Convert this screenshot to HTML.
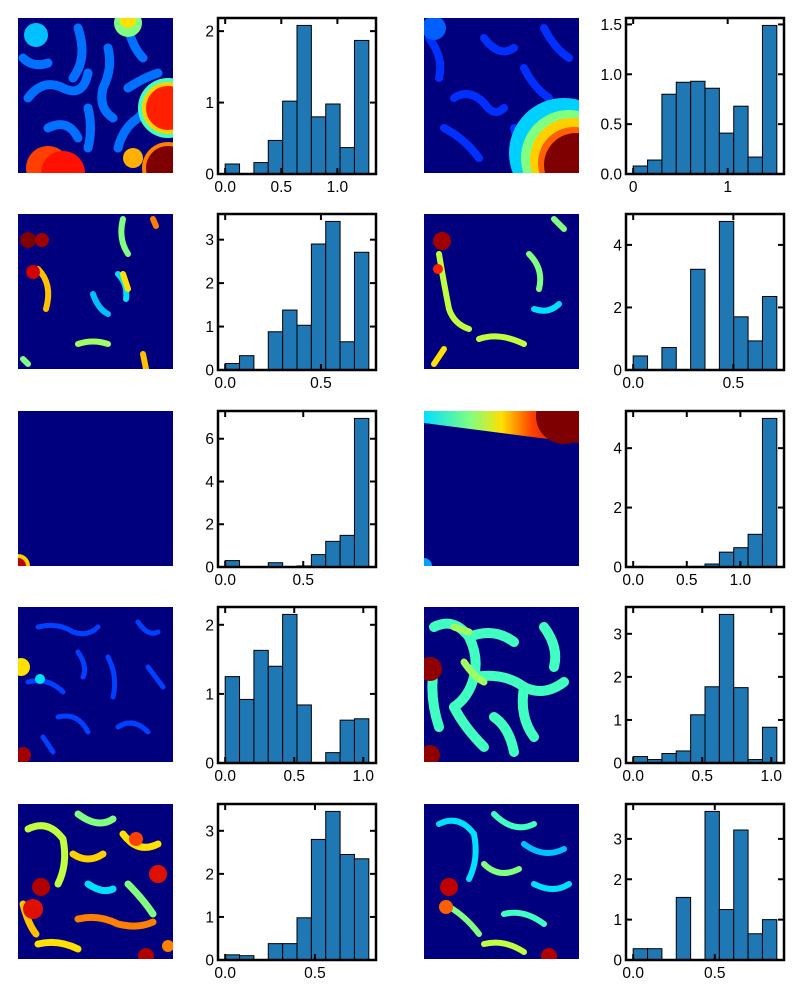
<!DOCTYPE html>
<html><head><meta charset="utf-8"><style>
body{margin:0;background:#fff;}
svg{display:block;font-family:"Liberation Sans","DejaVu Sans",sans-serif;}
</style></head><body>
<svg id="fig" width="800" height="1000" viewBox="0 0 800 1000">
<rect width="800" height="1000" fill="#fff"/>
<!-- Image 1 -->
<svg x="18" y="18" width="155" height="155" viewBox="0 0 155 155">
<rect width="155" height="155" fill="#00007f"/>
<g fill="none" stroke="#0070ff" stroke-width="9" stroke-linecap="round">
<path d="M10 80 Q25 60 45 70 T70 55"/><path d="M60 10 Q70 40 55 60"/><path d="M90 30 Q95 50 85 70 Q80 90 95 100"/>
<path d="M30 110 Q50 100 60 120"/><path d="M100 130 Q105 110 120 100 Q130 90 135 80"/><path d="M5 40 Q15 50 30 45"/>
<path d="M70 90 Q75 110 70 130"/><path d="M110 70 Q125 60 140 55"/><path d="M110 10 Q115 30 125 40"/></g>
<circle cx="18" cy="17" r="12" fill="#00c0ff"/>
<circle cx="110" cy="5" r="14" fill="#80ff80"/><circle cx="110" cy="2" r="8" fill="#ffe000"/>
<circle cx="150" cy="90" r="30" fill="#40ffc0"/><circle cx="150" cy="90" r="26" fill="#ffd000"/><circle cx="150" cy="90" r="22" fill="#ff2000"/>
<circle cx="30" cy="150" r="22" fill="#ff4000"/><circle cx="45" cy="155" r="22" fill="#ff1000"/>
<circle cx="150" cy="150" r="26" fill="#ff8000"/><circle cx="150" cy="150" r="22" fill="#7f0000"/>
<circle cx="115" cy="140" r="10" fill="#ffb000"/>
</svg>
<!-- Image 2 -->
<svg x="424" y="18" width="155" height="155" viewBox="0 0 155 155">
<rect width="155" height="155" fill="#00007f"/>
<g fill="none" stroke="#0030ff" stroke-width="8" stroke-linecap="round">
<path d="M5 20 Q20 40 15 60"/><path d="M30 80 Q45 70 60 85 Q70 100 80 90"/><path d="M60 20 Q75 40 90 30"/>
<path d="M100 50 Q110 70 125 80"/><path d="M20 110 Q40 120 55 140"/><path d="M90 110 Q95 130 110 140"/><path d="M120 10 Q130 30 145 40"/></g>
<circle cx="10" cy="10" r="12" fill="#0060ff"/>
<circle cx="140" cy="135" r="55" fill="#00d0ff"/><circle cx="145" cy="140" r="48" fill="#80ff80"/>
<circle cx="148" cy="142" r="42" fill="#ffd000"/><circle cx="150" cy="145" r="36" fill="#ff6000"/><circle cx="152" cy="147" r="32" fill="#7f0000"/>
</svg>
<!-- Image 3 -->
<svg x="18" y="214" width="155" height="155" viewBox="0 0 155 155">
<rect width="155" height="155" fill="#00007f"/>
<g fill="none" stroke-width="6" stroke-linecap="round">
<path d="M20 55 Q35 70 28 95" stroke="#ffc000"/><path d="M105 5 Q100 25 110 40" stroke="#80ff80"/><path d="M60 130 Q75 125 90 130" stroke="#a0ff60"/>
<path d="M100 60 Q110 70 108 85" stroke="#00e0ff"/><path d="M75 80 Q80 95 90 100" stroke="#00c0ff"/><path d="M125 140 L128 155" stroke="#ffc000"/>
<path d="M5 145 L10 150" stroke="#80ff80"/><path d="M135 5 L138 12" stroke="#ff8000"/><path d="M105 60 L110 75" stroke="#ffe000"/></g>
<circle cx="10" cy="26" r="8" fill="#7f0000"/><circle cx="24" cy="26" r="7" fill="#a00000"/><circle cx="15" cy="58" r="7" fill="#d00000"/>
</svg>
<!-- Image 4 -->
<svg x="424" y="214" width="155" height="155" viewBox="0 0 155 155">
<rect width="155" height="155" fill="#00007f"/>
<g fill="none" stroke-width="6" stroke-linecap="round">
<path d="M15 40 Q20 70 25 95 Q30 110 45 115" stroke="#c0ff40"/><path d="M105 40 Q120 55 115 75" stroke="#80ff80"/>
<path d="M55 125 Q75 118 100 130" stroke="#c0ff40"/><path d="M110 95 Q125 100 135 90" stroke="#00e0ff"/><path d="M20 135 L10 150" stroke="#ffe000"/>
<path d="M130 5 L140 15" stroke="#80ff80"/></g>
<circle cx="18" cy="27" r="9" fill="#a00000"/><circle cx="14" cy="55" r="5" fill="#ff2000"/>
</svg>
<!-- Image 5 -->
<svg x="18" y="411" width="155" height="155" viewBox="0 0 155 155">
<rect width="155" height="155" fill="#00007f"/>
<circle cx="0" cy="155" r="12" fill="#ffd000"/><circle cx="0" cy="155" r="8" fill="#c00000"/>
</svg>
<!-- Image 6 -->
<svg x="424" y="411" width="155" height="155" viewBox="0 0 155 155">
<defs><linearGradient id="g6" x1="0" x2="1" y1="0" y2="0">
<stop offset="0" stop-color="#00e0ff"/><stop offset="0.3" stop-color="#80ff80"/><stop offset="0.5" stop-color="#ffe000"/><stop offset="0.7" stop-color="#ff4000"/><stop offset="1" stop-color="#7f0000"/></linearGradient></defs>
<rect width="155" height="155" fill="#00007f"/>
<polygon points="0,0 155,0 155,32 0,12" fill="url(#g6)"/>
<circle cx="140" cy="5" r="28" fill="#7f0000"/>
<circle cx="0" cy="155" r="8" fill="#00a0ff"/>
</svg>
<!-- Image 7 -->
<svg x="18" y="607" width="155" height="155" viewBox="0 0 155 155">
<rect width="155" height="155" fill="#00007f"/>
<g fill="none" stroke="#0040ff" stroke-width="5" stroke-linecap="round">
<path d="M20 20 Q40 15 55 25 Q70 30 80 20"/><path d="M10 75 Q30 70 45 85"/><path d="M90 50 Q100 70 95 90"/><path d="M120 15 Q130 30 140 25"/>
<path d="M40 110 Q60 105 70 125"/><path d="M100 120 Q115 110 130 125"/><path d="M60 45 Q70 60 65 70"/><path d="M25 130 L35 145"/>
<path d="M130 60 L145 80"/></g>
<circle cx="3" cy="60" r="9" fill="#ffe000"/><circle cx="5" cy="148" r="8" fill="#a00000"/><circle cx="22" cy="72" r="5" fill="#00e0ff"/>
</svg>
<!-- Image 8 -->
<svg x="424" y="607" width="155" height="155" viewBox="0 0 155 155">
<rect width="155" height="155" fill="#00007f"/>
<g fill="none" stroke="#40ffc0" stroke-width="10" stroke-linecap="round">
<path d="M10 20 Q30 10 45 30 Q55 50 50 70 Q45 90 30 100"/><path d="M45 30 Q70 20 90 35"/><path d="M50 70 Q80 65 100 80 Q120 90 140 75"/>
<path d="M30 100 Q40 120 60 140"/><path d="M100 80 Q95 110 110 130"/><path d="M120 20 Q135 40 130 60"/><path d="M10 60 Q5 90 15 120"/>
<path d="M70 110 Q85 120 90 145"/></g>
<g fill="none" stroke="#a0ff60" stroke-width="7" stroke-linecap="round"><path d="M40 55 Q50 70 60 75"/><path d="M30 20 L45 25"/></g>
<circle cx="6" cy="62" r="12" fill="#900000"/><circle cx="6" cy="148" r="10" fill="#900000"/>
</svg>
<!-- Image 9 -->
<svg x="18" y="804" width="155" height="155" viewBox="0 0 155 155">
<rect width="155" height="155" fill="#00007f"/>
<g fill="none" stroke-width="7" stroke-linecap="round">
<path d="M10 25 Q30 15 45 35 Q50 60 40 80" stroke="#c0ff40"/><path d="M60 10 Q80 25 95 15" stroke="#80ff80"/><path d="M105 30 Q120 50 140 40" stroke="#ffe000"/>
<path d="M55 50 Q70 60 85 50" stroke="#ffd000"/><path d="M60 115 Q80 110 100 120 Q120 125 135 118" stroke="#ff8000"/><path d="M20 140 Q40 135 60 145" stroke="#ffe000"/>
<path d="M110 80 Q125 95 135 110" stroke="#80ff80"/><path d="M70 80 Q85 90 95 85" stroke="#00e0ff"/><path d="M5 100 Q10 120 18 130" stroke="#ffc000"/></g>
<circle cx="23" cy="83" r="9" fill="#b00000"/><circle cx="15" cy="105" r="10" fill="#e01000"/><circle cx="140" cy="70" r="9" fill="#e01000"/>
<circle cx="118" cy="35" r="7" fill="#ff4000"/><circle cx="128" cy="152" r="8" fill="#b00000"/><circle cx="150" cy="142" r="6" fill="#ff8000"/>
</svg>
<!-- Image 10 -->
<svg x="424" y="804" width="155" height="155" viewBox="0 0 155 155">
<rect width="155" height="155" fill="#00007f"/>
<g fill="none" stroke-width="6" stroke-linecap="round">
<path d="M15 20 Q35 10 50 30 Q55 55 45 75" stroke="#00e0ff"/><path d="M70 10 Q90 30 110 20" stroke="#40ffc0"/><path d="M100 40 Q120 55 140 45" stroke="#00c0ff"/>
<path d="M60 60 Q75 75 95 65" stroke="#80ff80"/><path d="M20 100 Q40 110 55 130" stroke="#80ff80"/><path d="M80 110 Q100 105 120 120" stroke="#40ffc0"/>
<path d="M110 80 Q130 90 145 80" stroke="#00e0ff"/><path d="M60 140 Q80 135 100 148" stroke="#c0ff40"/></g>
<circle cx="25" cy="83" r="9" fill="#c00000"/><circle cx="22" cy="103" r="7" fill="#ff6000"/><circle cx="125" cy="152" r="8" fill="#b00000"/>
</svg>
<g id="hists"></g>
</svg>
<script>
// Histogram data: bin ranges (lo, hi), bar heights, tick labels
const h1Range=[0,1.28];  const h1Vals=[0.14,0,0.16,0.47,1.02,2.08,0.80,0.98,0.37,1.87]; const h1X=[0,0.5,1.0]; const h1XL=["0.0","0.5","1.0"]; const h1Y=[0,1,2]; const h1YL=["0","1","2"];
const h2Range=[0,1.52];  const h2Vals=[0.08,0.14,0.80,0.92,0.93,0.86,0.41,0.68,0.17,1.49]; const h2X=[0,1]; const h2XL=["0","1"]; const h2Y=[0,0.5,1,1.5]; const h2YL=["0.0","0.5","1.0","1.5"];
const h3Range=[0,0.75];  const h3Vals=[0.15,0.33,0,0.88,1.38,1.03,2.9,3.42,0.65,2.71]; const h3X=[0,0.5]; const h3XL=["0.0","0.5"]; const h3Y=[0,1,2,3]; const h3YL=["0","1","2","3"];
const h4Range=[0,0.717]; const h4Vals=[0.45,0,0.72,0,3.22,0,4.75,1.7,0.93,2.35]; const h4X=[0,0.5]; const h4XL=["0.0","0.5"]; const h4Y=[0,2,4]; const h4YL=["0","2","4"];
const h5Range=[0,0.92];  const h5Vals=[0.3,0,0,0.2,0,0.05,0.58,1.2,1.48,6.95]; const h5X=[0,0.5]; const h5XL=["0.0","0.5"]; const h5Y=[0,2,4,6]; const h5YL=["0","2","4","6"];
const h6Range=[0,1.34];  const h6Vals=[0.02,0,0,0,0.02,0.1,0.5,0.65,1.1,5.0]; const h6X=[0,0.5,1.0]; const h6XL=["0.0","0.5","1.0"]; const h6Y=[0,2,4]; const h6YL=["0","2","4"];
const h7Range=[0,1.04];  const h7Vals=[1.25,0.92,1.63,1.4,2.15,0.84,0,0.15,0.62,0.64]; const h7X=[0,0.5,1.0]; const h7XL=["0.0","0.5","1.0"]; const h7Y=[0,1,2]; const h7YL=["0","1","2"];
const h8Range=[0,1.04];  const h8Vals=[0.15,0.08,0.22,0.28,1.12,1.77,3.45,1.75,0.08,0.83]; const h8X=[0,0.5,1.0]; const h8XL=["0.0","0.5","1.0"]; const h8Y=[0,1,2,3]; const h8YL=["0","1","2","3"];
const h9Range=[0,0.8];   const h9Vals=[0.12,0.1,0,0.38,0.38,0.98,2.8,3.45,2.45,2.35]; const h9X=[0,0.5]; const h9XL=["0.0","0.5"]; const h9Y=[0,1,2,3]; const h9YL=["0","1","2","3"];
const h10Range=[0,0.88]; const h10Vals=[0.28,0.28,0,1.55,0,3.68,1.25,3.22,0.65,1.0]; const h10X=[0,0.5]; const h10XL=["0.0","0.5"]; const h10Y=[0,1,2,3]; const h10YL=["0","1","2","3"];

const NS="http://www.w3.org/2000/svg";
const root=document.getElementById('hists');
function mk(tag,attrs,parent){const e=document.createElementNS(NS,tag);for(const k in attrs)e.setAttribute(k,attrs[k]);parent.appendChild(e);return e;}
function hist(idx,left,top,range,vals,xt,xtl,yt,ytl){
  const W=158,H=156;
  const g=mk('g',{},root);
  
  
  const lo=range[0],hi=range[1],span=hi-lo;
  const x0=lo-0.05*span,x1=hi+0.05*span;
  const ymax=Math.max(...vals)*1.05;
  const sx=v=>left+(v-x0)/(x1-x0)*W;
  const sy=v=>top+H-(v/ymax)*H;
  const bw=span/vals.length;
  vals.forEach((v,i)=>{
    if(v<=0)return;
    const xa=sx(lo+i*bw),xb=sx(lo+(i+1)*bw);
    const r=mk('rect',{x:xa,y:sy(v),width:xb-xa,height:sy(0)-sy(v),fill:'#1f77b4',stroke:'#000','stroke-width':1},g);
    
    
  });
  xt.forEach((t,i)=>{
    const x=sx(t);
    mk('line',{x1:x,x2:x,y1:top+H,y2:top+H-6,stroke:'#000','stroke-width':2},g);
    mk('line',{x1:x,x2:x,y1:top,y2:top+6,stroke:'#000','stroke-width':2},g);
    const tx=mk('text',{x:x,y:top+H+18,'font-size':15.5,'text-anchor':'middle',fill:'#000'},g);
    tx.textContent=xtl[i];
    
    
  });
  yt.forEach((t,i)=>{
    const y=sy(t);
    mk('line',{x1:left,x2:left+6,y1:y,y2:y,stroke:'#000','stroke-width':2},g);
    mk('line',{x1:left+W,x2:left+W-6,y1:y,y2:y,stroke:'#000','stroke-width':2},g);
    const tx=mk('text',{x:left-4,y:y+5.5,'font-size':15.5,'text-anchor':'end',fill:'#000'},g);
    tx.textContent=ytl[i];
    
    
  });
  const fr=mk('rect',{x:left,y:top,width:W,height:H,fill:'none',stroke:'#000','stroke-width':2.5},g);
  
  
}
const L=218,R=626,T=[18,214,411,607,804];
hist(1,L,T[0],h1Range,h1Vals,h1X,h1XL,h1Y,h1YL);
hist(2,R,T[0],h2Range,h2Vals,h2X,h2XL,h2Y,h2YL);
hist(3,L,T[1],h3Range,h3Vals,h3X,h3XL,h3Y,h3YL);
hist(4,R,T[1],h4Range,h4Vals,h4X,h4XL,h4Y,h4YL);
hist(5,L,T[2],h5Range,h5Vals,h5X,h5XL,h5Y,h5YL);
hist(6,R,T[2],h6Range,h6Vals,h6X,h6XL,h6Y,h6YL);
hist(7,L,T[3],h7Range,h7Vals,h7X,h7XL,h7Y,h7YL);
hist(8,R,T[3],h8Range,h8Vals,h8X,h8XL,h8Y,h8YL);
hist(9,L,T[4],h9Range,h9Vals,h9X,h9XL,h9Y,h9YL);
hist(10,R,T[4],h10Range,h10Vals,h10X,h10XL,h10Y,h10YL);
</script>
</body></html>
